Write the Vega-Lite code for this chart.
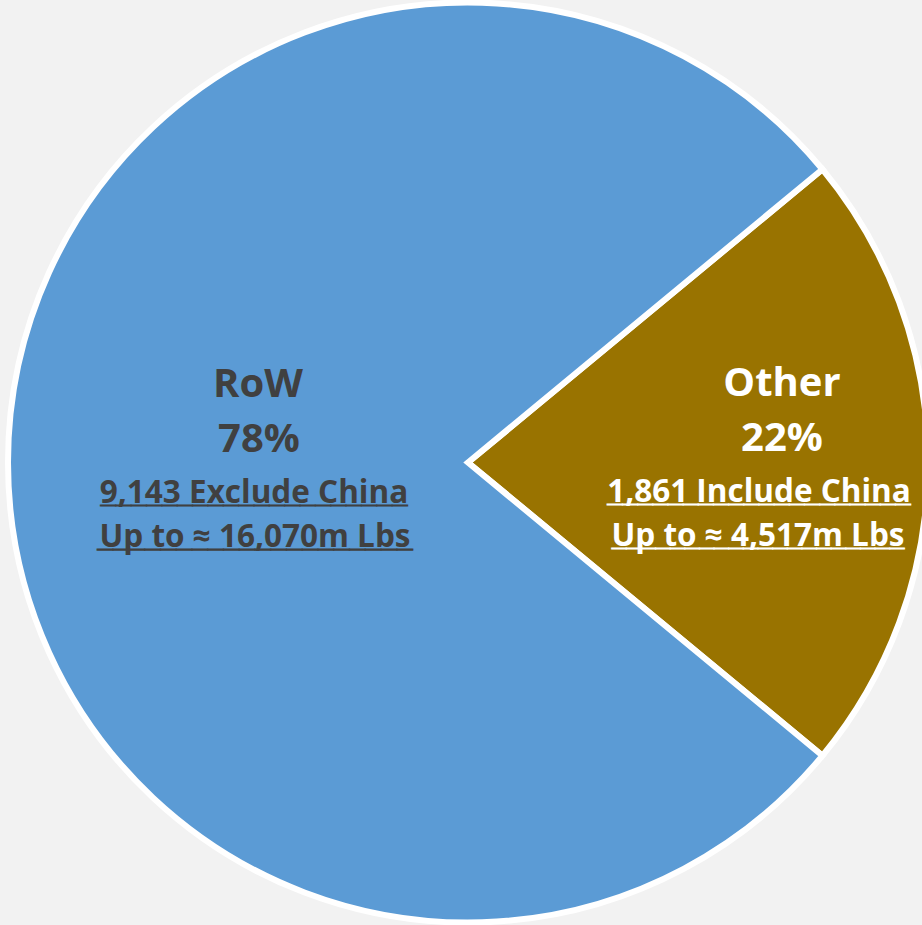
{
  "$schema": "https://vega.github.io/schema/vega-lite/v6.json",
  "autosize": {"type": "none"},
  "width": 908,
  "height": 925,
  "padding": {"left": 14, "top": 0, "right": 0, "bottom": 0},
  "background": "#f2f2f2",
  "config": {"view": {"stroke": null}},
  "data": {
    "values": [
      {"category": "Other", "pct": 22, "share": "22%", "count": "1,861 Include China", "volume": "Up to ≈ 4,517m Lbs"},
      {"category": "RoW", "pct": 78, "share": "78%", "count": "9,143 Exclude China", "volume": "Up to ≈ 16,070m Lbs"}
    ]
  },
  "encoding": {
    "theta": {"field": "pct", "type": "quantitative", "stack": true, "scale": {"range": [0.8796, 7.1628]}},
    "order": {"field": "pct", "sort": "ascending"}
  },
  "layer": [
    {
      "mark": {"type": "arc", "outerRadius": 460, "stroke": "white", "strokeWidth": 6},
      "encoding": {
        "color": {"field": "category", "type": "nominal", "legend": null,
          "scale": {"domain": ["Other", "RoW"], "range": ["#997300", "#5B9BD5"]}}
      }
    },
    {
      "mark": {"type": "text", "font": "Open Sans", "fontWeight": "bold", "fontSize": 40, "baseline": "alphabetic", "align": "center", "dy": -66},
      "encoding": {
        "text": {"field": "category"},
        "radius": {"field": "pct", "type": "quantitative", "scale": {"type": "linear", "zero": false, "domain": [22, 78], "range": [314, 210]}},
        "color": {"condition": {"test": "datum.category === 'Other'", "value": "#ffffff"}, "value": "#404040"}
      }
    },
    {
      "mark": {"type": "text", "font": "Open Sans", "fontWeight": "bold", "fontSize": 40, "baseline": "alphabetic", "align": "center", "dy": -11},
      "encoding": {
        "text": {"field": "share"},
        "radius": {"field": "pct", "type": "quantitative", "scale": {"type": "linear", "zero": false, "domain": [22, 78], "range": [314, 209]}},
        "color": {"condition": {"test": "datum.category === 'Other'", "value": "#ffffff"}, "value": "#404040"}
      }
    },
    {
      "mark": {"type": "text", "font": "Open Sans", "fontWeight": "bold", "fontSize": 31.5, "baseline": "alphabetic", "align": "center", "dy": 40},
      "encoding": {
        "text": {"field": "count"},
        "radius": {"field": "pct", "type": "quantitative", "scale": {"type": "linear", "zero": false, "domain": [22, 78], "range": [291, 214]}},
        "color": {"condition": {"test": "datum.category === 'Other'", "value": "#ffffff"}, "value": "#404040"}
      }
    },
    {
      "mark": {"type": "text", "font": "Open Sans", "fontWeight": "bold", "fontSize": 31.5, "baseline": "alphabetic", "align": "center", "dy": 84},
      "encoding": {
        "text": {"field": "volume"},
        "radius": {"field": "pct", "type": "quantitative", "scale": {"type": "linear", "zero": false, "domain": [22, 78], "range": [290, 213]}},
        "color": {"condition": {"test": "datum.category === 'Other'", "value": "#ffffff"}, "value": "#404040"}
      }
    },
    {
      "mark": {"type": "text", "font": "DejaVu Sans Mono", "baseline": "alphabetic", "align": "center", "dy": 37, "strokeWidth": 1.2},
      "encoding": {
        "text": {"value": "____________________"},
        "size": {"condition": {"test": "datum.category === 'Other'", "value": 25.2}, "value": 25.5},
        "radius": {"field": "pct", "type": "quantitative", "scale": {"type": "linear", "zero": false, "domain": [22, 78], "range": [291, 214]}},
        "color": {"condition": {"test": "datum.category === 'Other'", "value": "#ffffff"}, "value": "#404040"},
        "stroke": {"condition": {"test": "datum.category === 'Other'", "value": "#ffffff"}, "value": "#404040"}
      }
    },
    {
      "mark": {"type": "text", "font": "DejaVu Sans Mono", "baseline": "alphabetic", "align": "center", "dy": 81, "strokeWidth": 1.2},
      "encoding": {
        "text": {"value": "____________________"},
        "size": {"condition": {"test": "datum.category === 'Other'", "value": 24.3}, "value": 26.2},
        "radius": {"field": "pct", "type": "quantitative", "scale": {"type": "linear", "zero": false, "domain": [22, 78], "range": [290, 213]}},
        "color": {"condition": {"test": "datum.category === 'Other'", "value": "#ffffff"}, "value": "#404040"},
        "stroke": {"condition": {"test": "datum.category === 'Other'", "value": "#ffffff"}, "value": "#404040"}
      }
    }
  ],
  "resolve": {"scale": {"radius": "independent"}}
}
